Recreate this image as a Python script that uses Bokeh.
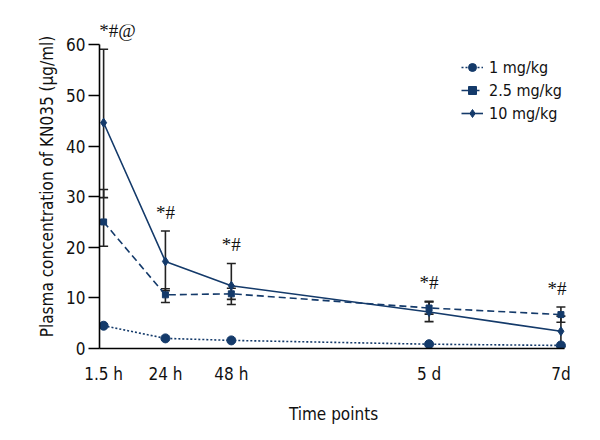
from bokeh.plotting import figure
from bokeh.models import ColumnDataSource, Whisker, TeeHead, FixedTicker, Legend, LegendItem, Range1d, LabelSet
from bokeh.embed import file_html
from bokeh.resources import INLINE

# ---- data ----
x_days = [0.0625, 1, 2, 5, 7]
x_labels = ["1.5 h", "24 h", "48 h", "5 d", "7d"]
series_names = ["1 mg/kg", "2.5 mg/kg", "10 mg/kg"]
mean_1 = [4.5, 2.0, 1.6, 0.85, 0.6]
mean_25 = [25.0, 10.6, 10.8, 8.0, 6.7]
mean_10 = [44.6, 17.2, 12.4, 7.2, 3.4]
upper_25 = [31.4, 11.8, 11.9, 9.2, 8.2]
lower_25 = [20.2, 9.1, 9.7, 6.8, 5.2]
upper_10 = [59.1, 23.2, 16.8, 9.3, 6.4]
lower_10 = [29.8, 11.4, 8.7, 5.3, 0.4]
sig_labels = ["*#@", "*#", "*#", "*#", "*#"]

FONT = "DejaVu Sans Condensed, Roboto Condensed, Roboto"
NAVY = "#143a6a"
BAR = "#222222"

p = figure(width=584, height=426, output_backend="svg", toolbar_location=None,
           x_range=Range1d(0, 7.1), y_range=Range1d(0, 64),
           min_border_left=99, min_border_right=17, min_border_top=24, min_border_bottom=10)
p.outline_line_color = None
p.grid.visible = False
p.background_fill_color = "white"

# lines + markers
s1 = ColumnDataSource(dict(x=x_days, y=mean_1))
s25 = ColumnDataSource(dict(x=x_days, y=mean_25, lo=lower_25, hi=upper_25))
s10 = ColumnDataSource(dict(x=x_days, y=mean_10, lo=lower_10, hi=upper_10))

l1 = p.line("x", "y", source=s1, line_color=NAVY, line_width=1.6, line_dash="2 2")
m1 = p.scatter("x", "y", source=s1, marker="circle", size=9, color=NAVY)
l25 = p.line("x", "y", source=s25, line_color=NAVY, line_width=1.6, line_dash="7 4")
m25 = p.scatter("x", "y", source=s25, marker="square", size=6, color=NAVY)
l10 = p.line("x", "y", source=s10, line_color=NAVY, line_width=1.6)
m10 = p.scatter("x", "y", source=s10, marker="diamond", size=9, color=NAVY)

for src in (s25, s10):
    w = Whisker(base="x", upper="hi", lower="lo", source=src,
                line_color=BAR, line_width=1.6,
                upper_head=TeeHead(size=9, line_color=BAR, line_width=1.6),
                lower_head=TeeHead(size=9, line_color=BAR, line_width=1.6))
    p.add_layout(w)

# significance marks (label above the highest error bar of each time point)
top = [max(a, b) for a, b in zip(upper_25, upper_10)]
st = ColumnDataSource(dict(x=x_days, y=top, t=sig_labels, dx=[14, 0, 0, 0, -4]))
labels = LabelSet(x="x", y="y", text="t", source=st, text_font=FONT, text_font_size="19px",
                  text_color="#111111", text_align="center", text_baseline="bottom",
                  y_offset=8, x_offset="dx")
p.add_layout(labels)

# axes
p.xaxis.ticker = FixedTicker(ticks=x_days)
p.xaxis.major_label_overrides = {x: l for x, l in zip(x_days, x_labels)}
p.xaxis.major_tick_out = 0
p.xaxis.major_tick_in = 0
p.xaxis.minor_tick_line_color = None
p.xaxis.bounds = (0, 7.05)
p.xaxis.major_label_standoff = 15
p.xaxis.axis_label = "Time points"
p.xaxis.axis_label_standoff = 17

p.yaxis.ticker = FixedTicker(ticks=[0, 10, 20, 30, 40, 50, 60])
p.yaxis.bounds = (0, 60)
p.yaxis.major_tick_out = 11
p.yaxis.major_tick_in = 0
p.yaxis.minor_tick_line_color = None
p.yaxis.major_label_standoff = 3
p.yaxis.axis_label = "Plasma concentration of KN035 (\u00b5g/ml)"
p.yaxis.axis_label_standoff = 6

for ax in (p.xaxis, p.yaxis):
    ax.axis_line_color = "black"
    ax.axis_line_width = 1.6
    ax.major_tick_line_color = "black"
    ax.major_tick_line_width = 1.6
    ax.major_label_text_font = FONT
    ax.major_label_text_font_size = "17px"
    ax.major_label_text_color = "#111111"
    ax.axis_label_text_font = FONT
    ax.axis_label_text_font_size = "17px"
    ax.axis_label_text_font_style = "normal"
    ax.axis_label_text_color = "#111111"

legend = Legend(items=[
    LegendItem(label=series_names[0], renderers=[l1, m1]),
    LegendItem(label=series_names[1], renderers=[l25, m25]),
    LegendItem(label=series_names[2], renderers=[l10, m10]),
], location=(362, 225))
legend.label_text_font = FONT
legend.label_text_font_size = "16px"
legend.label_text_color = "#111111"
legend.glyph_width = 22
legend.glyph_height = 20
legend.label_height = 20
legend.spacing = 3
legend.padding = 0
legend.margin = 0
legend.label_standoff = 6
legend.border_line_alpha = 0
legend.background_fill_alpha = 0
p.add_layout(legend, "center")

open("out.html", "w").write(file_html(p, INLINE))
